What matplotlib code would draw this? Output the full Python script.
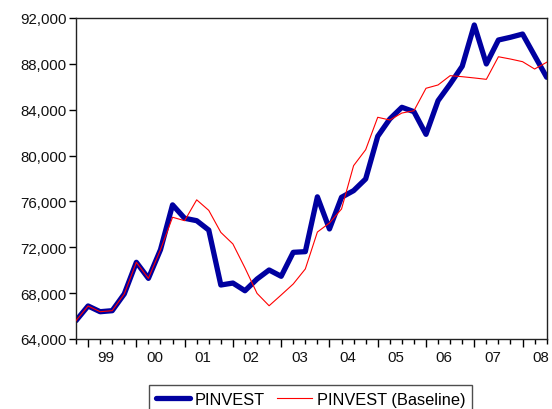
import matplotlib
matplotlib.use("Agg")
import matplotlib.pyplot as plt
from matplotlib.ticker import FixedLocator, FuncFormatter

plt.rcParams['font.family'] = ['Liberation Sans', 'DejaVu Sans']

# Quarterly observations 1998Q4 .. 2008Q3
start_year = 1998
start_quarter = 4
pinvest = [65600, 66880, 66380, 66470, 67930, 70690, 69290, 71790, 75700, 74530,
           74320, 73500, 68710, 68880, 68210, 69230, 70020, 69470, 71560, 71620,
           76400, 73600, 76360, 76940, 77960, 81680, 83190, 84210, 83830, 81850,
           84790, 86240, 87790, 91390, 87990, 90080, 90320, 90600, 88710, 86830]
baseline = [65600, 66880, 66380, 66470, 67930, 70690, 69290, 71790, 74620, 74320,
            76140, 75220, 73300, 72290, 70200, 67980, 66900, 67840, 68800, 70110,
            73330, 74120, 75340, 79120, 80510, 83340, 83100, 83710, 83910, 85870,
            86160, 86970, 86880, 86770, 86650, 88620, 88420, 88190, 87550, 88140]
year_labels = ["99", "00", "01", "02", "03", "04", "05", "06", "07", "08"]
y_ticks = [64000, 68000, 72000, 76000, 80000, 84000, 88000, 92000]

n = len(pinvest)
x = list(range(n))

fig = plt.figure(figsize=(5.52, 4.10), dpi=100)
ax = fig.add_axes([76/552, 1-340/410, (546.7-76)/552, (340-19)/410])

l1, = ax.plot(x, pinvest, color='#0000A0', lw=3.8, solid_joinstyle='round',
              solid_capstyle='round', label='PINVEST', zorder=2)
l2, = ax.plot(x, baseline, color='#FF0000', lw=0.8, label='PINVEST (Baseline)', zorder=3)

ax.set_xlim(0, n-1)
ax.set_ylim(y_ticks[0], y_ticks[-1])
ax.yaxis.set_major_locator(FixedLocator(y_ticks))
ax.yaxis.set_major_formatter(FuncFormatter(lambda v, p: f"{int(v):,}"))

# year boundaries (Q1 positions)
first_q1 = (4 - start_quarter + 1) % 4
major = list(range(first_q1, n, 4))
ax.set_xticks(major)
ax.set_xticklabels([])
ax.set_xticks(list(range(n)), minor=True)
# labels centred in year
for k, m in enumerate(major):
    if k < len(year_labels):
        ax.text(m + 1.5, -0.033, year_labels[k], transform=ax.get_xaxis_transform(),
                ha='center', va='top', fontsize=10.8, color='#111111')

ax.tick_params(axis='x', which='major', length=6, width=1, direction='out')
ax.tick_params(axis='x', which='minor', length=3.5, width=1, direction='out')
ax.tick_params(axis='y', which='major', length=5, width=1, direction='out', labelsize=10.8,
               labelcolor='#111111', pad=2)
for s in ax.spines.values():
    s.set_linewidth(1.0)
    s.set_color('#222222')

fig.legend(handles=[l1, l2], loc='upper center', bbox_to_anchor=(310.5/552, 1-386/410),
           ncol=2, frameon=True, fancybox=False, edgecolor='#222222', fontsize=11.8,
           handlelength=2.1, handletextpad=0.3, columnspacing=0.75, borderpad=0.4,
           borderaxespad=0)

fig.savefig('out.png', dpi=100)
